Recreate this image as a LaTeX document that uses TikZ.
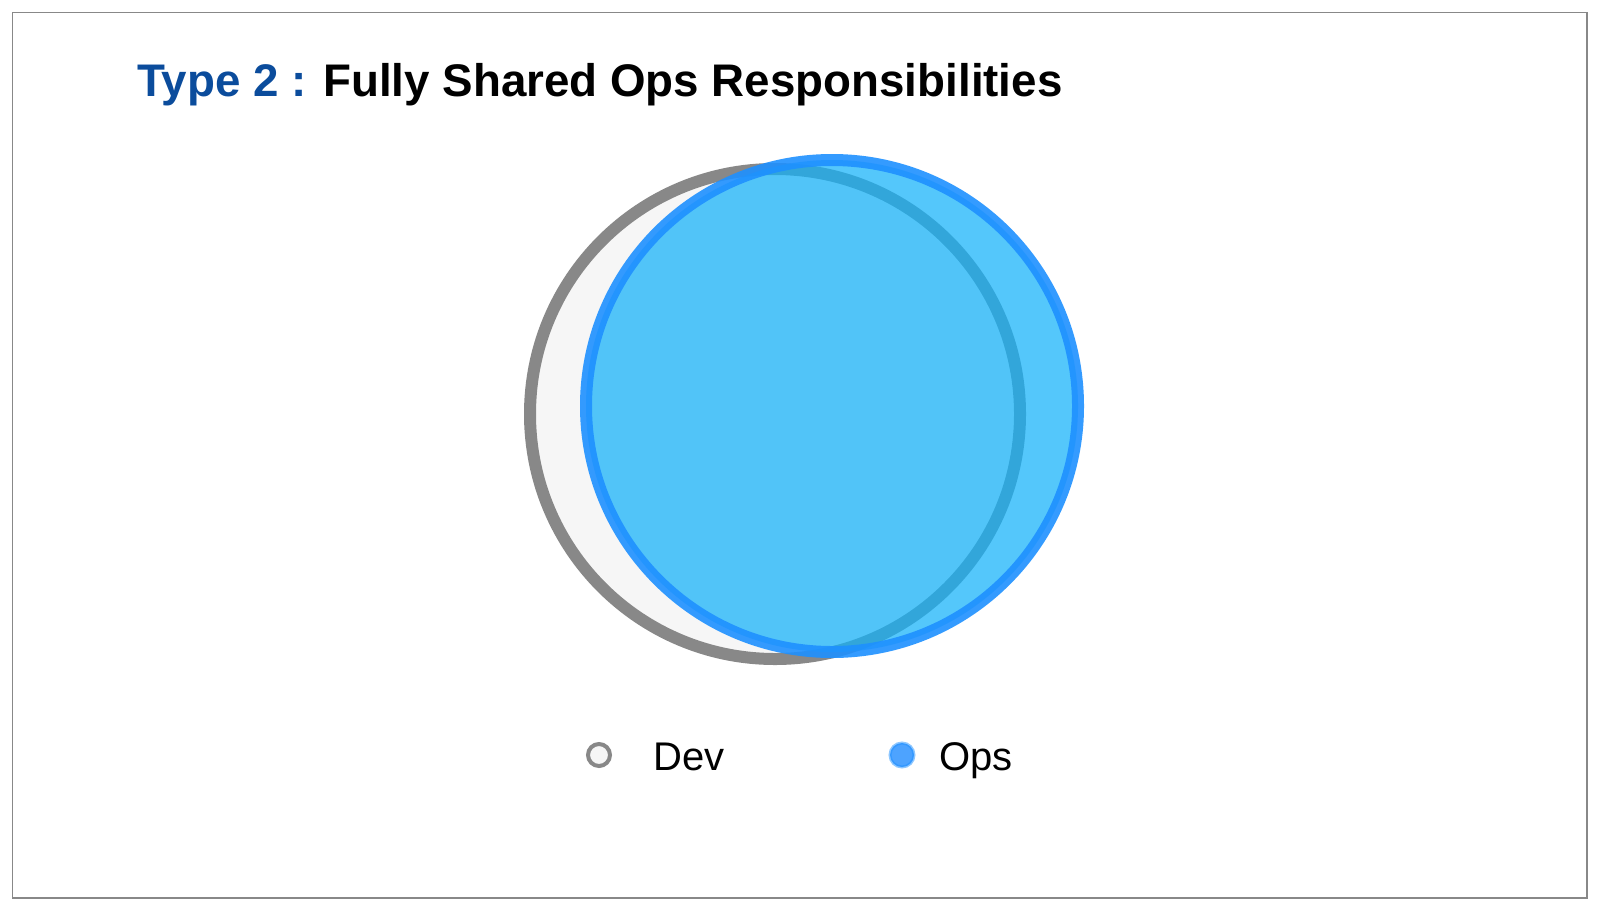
\documentclass[tikz,border=0pt]{standalone}
\usepackage{fontspec}
\setmainfont{Liberation Sans}
\definecolor{typeblue}{HTML}{0B4C9C}
\definecolor{devgray}{HTML}{888888}
\definecolor{devfill}{HTML}{F6F6F6}
\definecolor{opsfill}{HTML}{12B2FA}
\definecolor{opsline}{HTML}{1E90FF}
\definecolor{opskey}{HTML}{4DA3FF}
\tikzset{
	devset/.style={circle, inner sep=0, minimum size=490, draw=devgray, line width=12, fill=devfill},
	opsset/.style={circle, inner sep=0, minimum size=492, draw=opsline, draw opacity=0.9, line width=12, fill=opsfill, fill opacity=0.72},
	devkey/.style={circle, inner sep=0, minimum size=22, draw=devgray, line width=4, fill=devfill},
	opskeymark/.style={circle, inner sep=0, minimum size=24, draw=opsline, draw opacity=0.5, line width=3, fill=opskey},
	keytext/.style={anchor=base west, inner sep=0, font=\fontsize{40}{44}\selectfont}
}
\begin{document}
\begin{tikzpicture}[x=1pt, y=-1pt]
\useasboundingbox (0,0) rectangle (1600,911);
\draw[devgray, line width=1.2] (12.5,12.5) rectangle (1587,898);
% title
\node[anchor=base west, inner sep=0, font=\bfseries\fontsize{45.7}{50}\selectfont] (title) at (137,96)
	{\textcolor{typeblue}{Type 2 :} Fully Shared Ops Responsibilities};
% the two sets
\node[devset] (dev) at (775,414) {};
\node[opsset] (ops) at (832,406) {};
% legend
\node[devkey] (devmark) at (599,755) {};
\node[keytext] (devlabel) at (653,770) {Dev};
\node[opskeymark] (opsmark) at (902,755) {};
\node[keytext] (opslabel) at (939,770) {Ops};
\end{tikzpicture}
\end{document}
